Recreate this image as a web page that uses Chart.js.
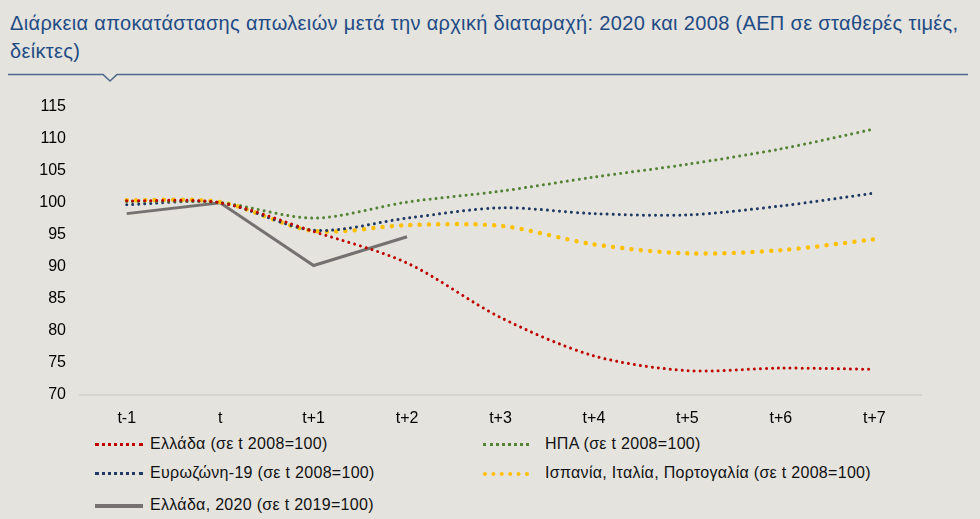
<!DOCTYPE html>
<html><head><meta charset="utf-8">
<script src="https://cdn.jsdelivr.net/npm/chart.js@4.4.1/dist/chart.umd.min.js"></script>
<style>
html,body{margin:0;padding:0;background:#E4E3DE;width:980px;height:519px;overflow:hidden;font-family:"Liberation Sans",Arial,sans-serif;}
#title{position:absolute;left:10px;top:9px;width:968px;color:#1F4B85;font-size:20px;line-height:28px;letter-spacing:0.34px;}
#rule{position:absolute;left:0;top:68px;}
#wrap{position:absolute;left:0;top:83px;width:930px;height:352px;}
.leg{position:absolute;font-size:16px;color:#111;line-height:18px;white-space:nowrap;letter-spacing:0.3px;}
.sw{position:absolute;height:0;}
</style></head><body>
<div id="title">Διάρκεια αποκατάστασης απωλειών μετά την αρχική διαταραχή: 2020 και 2008 (ΑΕΠ σε σταθερές τιμές, δείκτες)</div>
<svg id="rule" width="980" height="20"><polyline points="8,6.5 103,6.5 110,13 117,6.5 968,6.5" fill="none" stroke="#4F6788" stroke-width="1.6"/></svg>
<div id="wrap"><canvas id="c"></canvas></div>
<div id="legend"></div>
<script>
const categories = ["t-1","t","t+1","t+2","t+3","t+4","t+5","t+6","t+7"];
const greece2008 = [100.3, 100.0, 95.5, 90.6, 82.1, 76.1, 73.8, 74.2, 74.0];
const usa2008 = [100.2, 100.0, 97.6, 100.1, 101.8, 104.0, 106.0, 108.4, 111.5];
const euro2008 = [99.7, 100.0, 95.7, 97.6, 99.2, 98.3, 98.1, 99.5, 101.5];
const south2008 = [100.4, 100.1, 95.6, 96.5, 96.4, 93.5, 92.1, 92.6, 94.3];
const greece2020 = [98.3, 100.0, 90.2, 94.7, null, null, null, null, null];
const yTicks = [70, 75, 80, 85, 90, 95, 100, 105, 110, 115];
const labels = ["Ελλάδα (σε t 2008=100)","ΗΠΑ (σε t 2008=100)","Ευρωζώνη-19 (σε t 2008=100)","Ισπανία, Ιταλία, Πορτογαλία (σε t 2008=100)","Ελλάδα, 2020 (σε t 2019=100)"];

const ds = [
 {label:labels[0], data:greece2008, borderColor:"#C00000", borderWidth:3, borderDash:[0.01,6], borderCapStyle:"round", tension:0.3},
 {label:labels[1], data:usa2008, borderColor:"#548235", borderWidth:3, borderDash:[0.01,6], borderCapStyle:"round", tension:0.3},
 {label:labels[2], data:euro2008, borderColor:"#1F3864", borderWidth:3, borderDash:[0.01,6], borderCapStyle:"round", tension:0.3},
 {label:labels[3], data:south2008, borderColor:"#FFC000", borderWidth:4.5, borderDash:[0.01,9.3], borderCapStyle:"round", tension:0.3},
 {label:labels[4], data:greece2020, borderColor:"#767171", borderWidth:3, tension:0, spanGaps:false}
];
ds.forEach(d=>{d.pointRadius=0;d.fill=false;});
new Chart(document.getElementById("c"),{
 type:"line",
 data:{labels:categories, datasets:ds},
 options:{
  responsive:true, maintainAspectRatio:false, animation:false,
  layout:{padding:{top:10,right:9,left:0,bottom:0}},
  plugins:{legend:{display:false},tooltip:{enabled:false}},
  scales:{
   x:{offset:true, grid:{display:false, drawTicks:false},
      border:{display:true,color:"#D6D5D0",width:2},
      ticks:{color:"#000",font:{family:"Liberation Sans, Arial",size:16},padding:14,maxRotation:0},
      afterFit:s=>{s.height=40;}},
   y:{min:70,max:115,
      afterBuildTicks:s=>{s.ticks=yTicks.map(v=>({value:v}));},
      grid:{display:false,drawTicks:false}, border:{display:false},
      ticks:{color:"#000",font:{family:"Liberation Sans, Arial",size:16},padding:14},
      afterFit:s=>{s.width=80;}}
  }
 }
});
const legPos=[[95,444],[483,444],[95,473],[483,473],[95,505]];
const sw=[
 "border-top:3px dotted #C00000;width:48px",
 "border-top:3px dotted #548235;width:46px",
 "border-top:3px dotted #1F3864;width:48px",
 "border-top:4px dotted #FFC000;width:46px",
 "border-top:4px solid #767171;width:48px"];
const L=document.getElementById("legend");
labels.forEach((t,i)=>{
 const [x,y]=legPos[i];
 const s=document.createElement("div");s.className="sw";s.style.cssText=sw[i]+";left:"+x+"px;top:"+(y-1)+"px";L.appendChild(s);
 const d=document.createElement("div");d.className="leg";d.textContent=t;d.style.left=(x+(i%2?62:55))+"px";d.style.top=(y-9)+"px";L.appendChild(d);
});
</script>
</body></html>
